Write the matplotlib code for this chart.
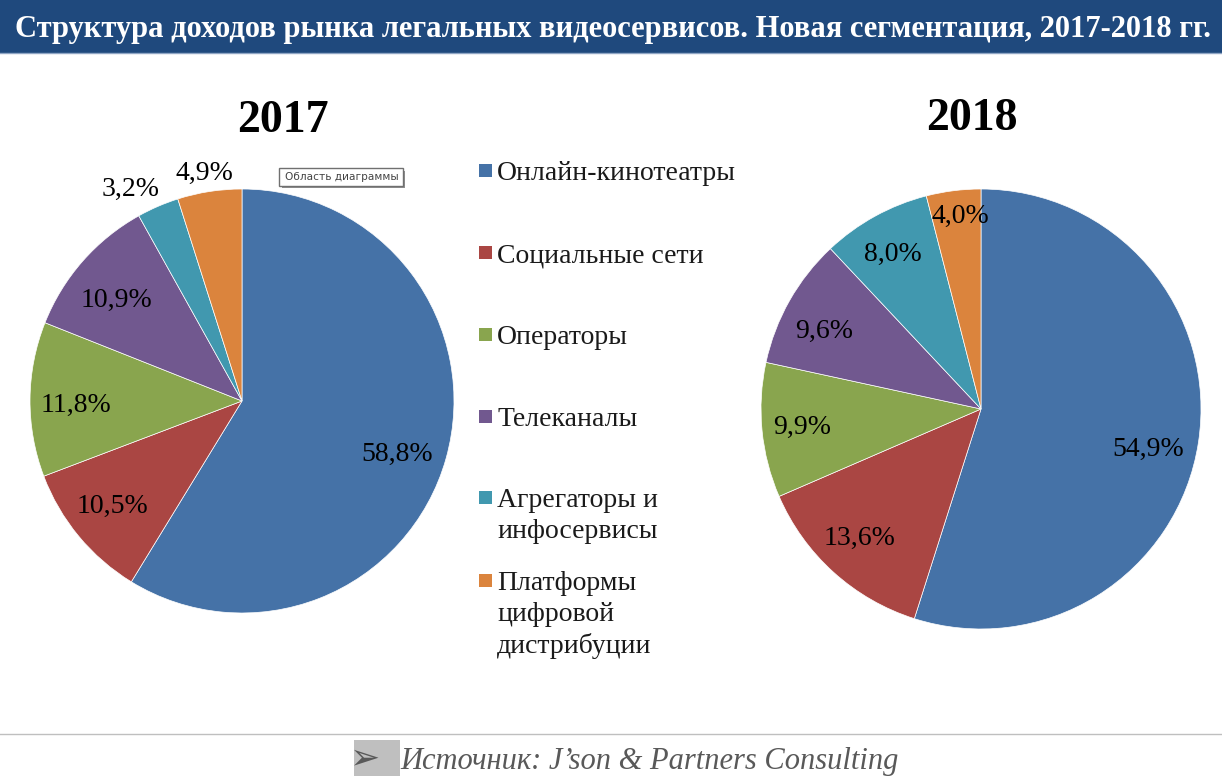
import matplotlib
matplotlib.use('Agg')
import matplotlib.pyplot as plt
from matplotlib.patches import Rectangle

plt.rcParams['font.family'] = ['Liberation Serif', 'DejaVu Sans']

title = 'Структура доходов рынка легальных видеосервисов. Новая сегментация, 2017-2018 гг.'
source = 'Источник: J’son & Partners Consulting'
categories = ['Онлайн-кинотеатры', 'Социальные сети', 'Операторы', 'Телеканалы',
              'Агрегаторы и\nинфосервисы', 'Платформы\nцифровой\nдистрибуции']
values_2017 = [58.8, 10.5, 11.8, 10.9, 3.2, 4.9]
values_2018 = [54.9, 13.6, 9.9, 9.6, 8.0, 4.0]
colors = ['#4572A7', '#AA4643', '#89A54E', '#71588F', '#4198AF', '#DB843D']

W, H = 1222, 780
fig = plt.figure(figsize=(W / 100, H / 100), dpi=100)

# overlay in pixel coordinates for everything that is not a pie
bg = fig.add_axes([0, 0, 1, 1], zorder=3)
bg.set_xlim(0, W)
bg.set_ylim(H, 0)
bg.axis('off')
bg.patch.set_alpha(0)


def draw_pie(values, cx, cy, r, label_pos):
    ax = fig.add_axes([(cx - r) / W, 1 - (cy + r) / H, 2 * r / W, 2 * r / H])
    ax.pie(values, colors=colors, startangle=90, counterclock=False, radius=1,
           wedgeprops={'edgecolor': 'white', 'linewidth': 0.5})
    ax.set_xlim(-1, 1)
    ax.set_ylim(-1, 1)
    for v, (x, y) in zip(values, label_pos):
        bg.text(x, y, f'{v:.1f}%'.replace('.', ','), fontsize=20, ha='center', va='center', color='black')


draw_pie(values_2017, 242, 401, 212,
         [(397, 454), (112, 506), (76, 405), (116, 300), (131, 189), (204, 173)])
draw_pie(values_2018, 981, 409, 220,
         [(1148, 449), (860, 538), (802, 427), (824, 331), (893, 254), (960, 216)])

# header band
bg.add_patch(Rectangle((0, 0), W, 53, color='#1F497D', lw=0))
bg.plot([0, W], [53, 53], color='#8FA5C4', lw=1)
bg.text(613, 30, title, color='white', fontsize=22, fontweight='bold', ha='center', va='center')

bg.text(283, 121, '2017', fontsize=33, fontweight='bold', ha='center', va='center')
bg.text(972, 119, '2018', fontsize=33, fontweight='bold', ha='center', va='center')

# legend
legend_y = [171, 253, 335, 417, 498, 581]
for name, c, y in zip(categories, colors, legend_y):
    bg.add_patch(Rectangle((479, y - 7), 13, 13, color=c, lw=0))
    bg.text(497, y - 10, name, fontsize=20, ha='left', va='top', linespacing=1.32, color='#1a1a1a')

# tooltip
bg.add_patch(Rectangle((282, 171), 123, 17, color='#909090', lw=0))
bg.add_patch(Rectangle((279, 168), 124, 18, facecolor='white', edgecolor='#707070', lw=1))
bg.text(285, 177.5, 'Область диаграммы', fontsize=7.6, family='DejaVu Sans', ha='left', va='center', color='#444444')

# footer
bg.plot([0, W], [734, 734], color='#BFBFBF', lw=1)
bg.add_patch(Rectangle((354, 740), 46, 36, color='#BFBFBF', lw=0))
bg.text(365, 758, '➢', fontsize=26, family='DejaVu Sans', color='#595959', ha='center', va='center')
bg.text(400, 762, source, fontsize=22, style='italic', color='#595959', ha='left', va='center')

fig.savefig('out.png', dpi=100, facecolor='white')
